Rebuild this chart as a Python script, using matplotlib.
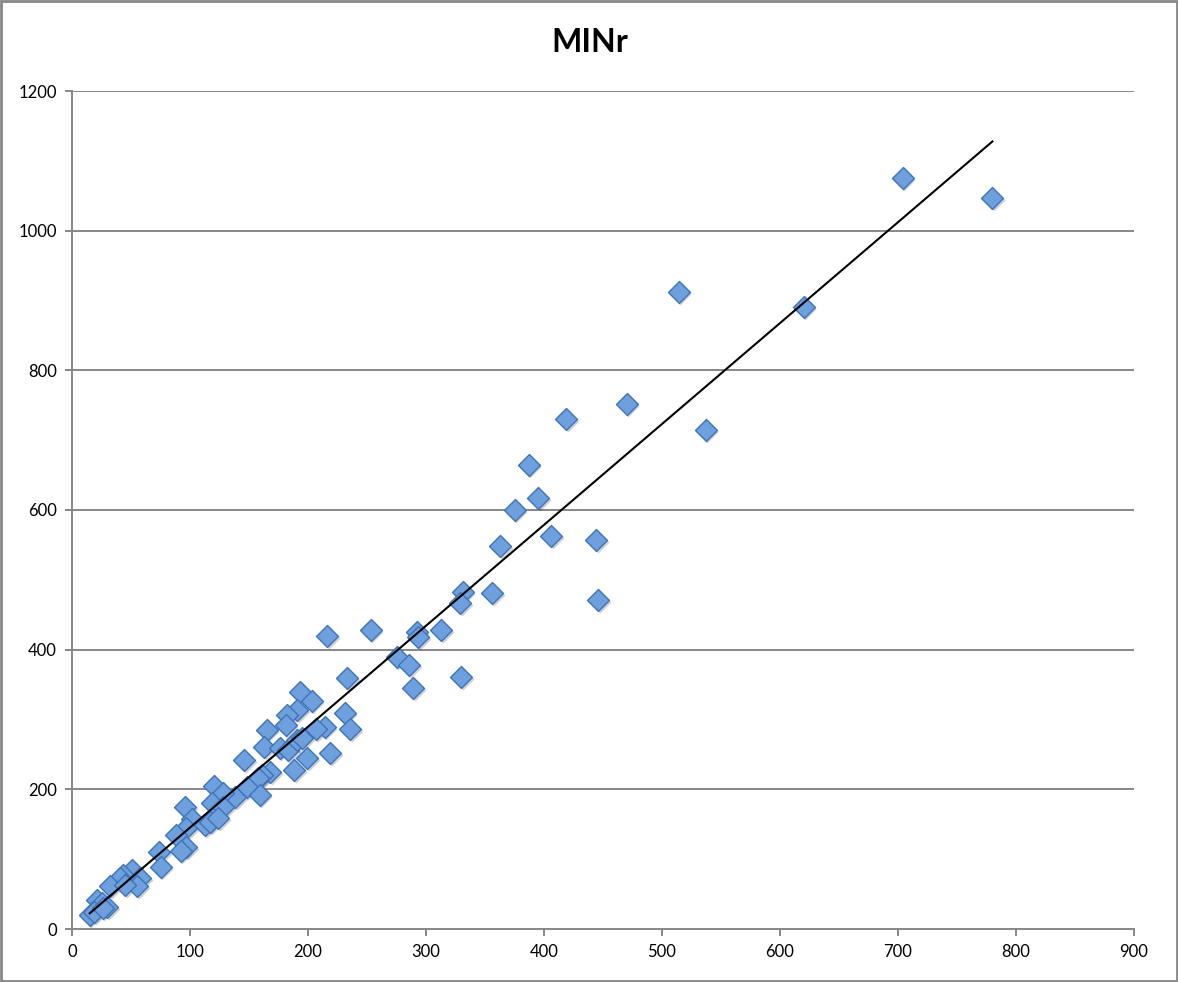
import matplotlib
matplotlib.use('Agg')
import matplotlib.pyplot as plt
import matplotlib.patches as mpatches
import numpy as np

plt.rcParams['font.family'] = ['Lato', 'DejaVu Sans']

# Datos (x, y)
x_vals = [704, 780, 514, 620, 470, 419, 537, 387, 395, 375,
          406, 444, 363, 446, 356, 331, 329, 313, 292, 293,
          253, 216, 275, 286, 289, 330, 233, 193, 203, 191,
          182, 231, 181, 236, 214, 207, 165, 163, 176, 183,
          191, 195, 199, 219, 188, 168, 161, 158, 146, 148,
          138, 159, 120, 128, 119, 128, 96, 102, 97, 113,
          117, 124, 88, 97, 92, 74, 75, 51, 43, 41,
          58, 55, 32, 45, 21, 25, 30, 15, 19, 26]
y_vals = [1075, 1047, 912, 891, 752, 731, 715, 665, 617, 600,
          563, 557, 549, 471, 481, 483, 467, 428, 425, 418,
          428, 420, 390, 378, 345, 361, 359, 339, 327, 314,
          306, 309, 292, 286, 289, 286, 285, 261, 259, 256,
          271, 274, 245, 252, 228, 225, 221, 216, 242, 203,
          189, 192, 205, 195, 180, 175, 175, 158, 145, 149,
          153, 159, 135, 117, 112, 110, 89, 84, 77, 73,
          73, 62, 62, 63, 42, 37, 32, 20, 24, 30]

titulo = 'MINr'
x_ticks = [0, 100, 200, 300, 400, 500, 600, 700, 800, 900]
y_ticks = [0, 200, 400, 600, 800, 1000, 1200]

x = np.array(x_vals)
y = np.array(y_vals)

fig = plt.figure(figsize=(11.78, 9.82), dpi=100)
ax = fig.add_axes([72/1178, 1 - 929/982, (1134-72)/1178, (929-91)/982])

# Grid horizontal
for yt in y_ticks[1:]:
    ax.axhline(yt, color='#878787', linewidth=1.4, zorder=0)

# Sombra de los marcadores
ax.scatter(x + 1.5, y - 3, marker='D', s=125, color='#000000', alpha=0.18,
           linewidths=0, zorder=2)
ax.scatter(x, y, marker='D', s=125, facecolor='#6FA0DE', edgecolor='#3F73B8',
           linewidths=1.0, zorder=3)

# Linea de tendencia lineal
m, b = np.polyfit(x, y, 1)
xl = np.array([x.min(), x.max()])
ax.plot(xl, m * xl + b, color='black', linewidth=1.5, zorder=4)

ax.set_xlim(0, 900)
ax.set_ylim(0, 1200)
ax.set_xticks(x_ticks)
ax.set_yticks(y_ticks)
ax.tick_params(axis='both', direction='out', length=5, width=1.4,
               color='#878787', labelsize=12, pad=6)

for s in ['top', 'right']:
    ax.spines[s].set_visible(False)
for s in ['left', 'bottom']:
    ax.spines[s].set_color('#878787')
    ax.spines[s].set_linewidth(1.4)

fig.text(590/1178, 1 - 43/982, titulo, ha='center', va='center',
         fontsize=23, fontweight='bold')

# Marco exterior
fig.patches.append(mpatches.Rectangle((0.001, 0.001), 0.998, 0.998,
                                      transform=fig.transFigure, fill=False,
                                      edgecolor='#878787', linewidth=2))

fig.savefig('out.png', dpi=100, facecolor='white')
